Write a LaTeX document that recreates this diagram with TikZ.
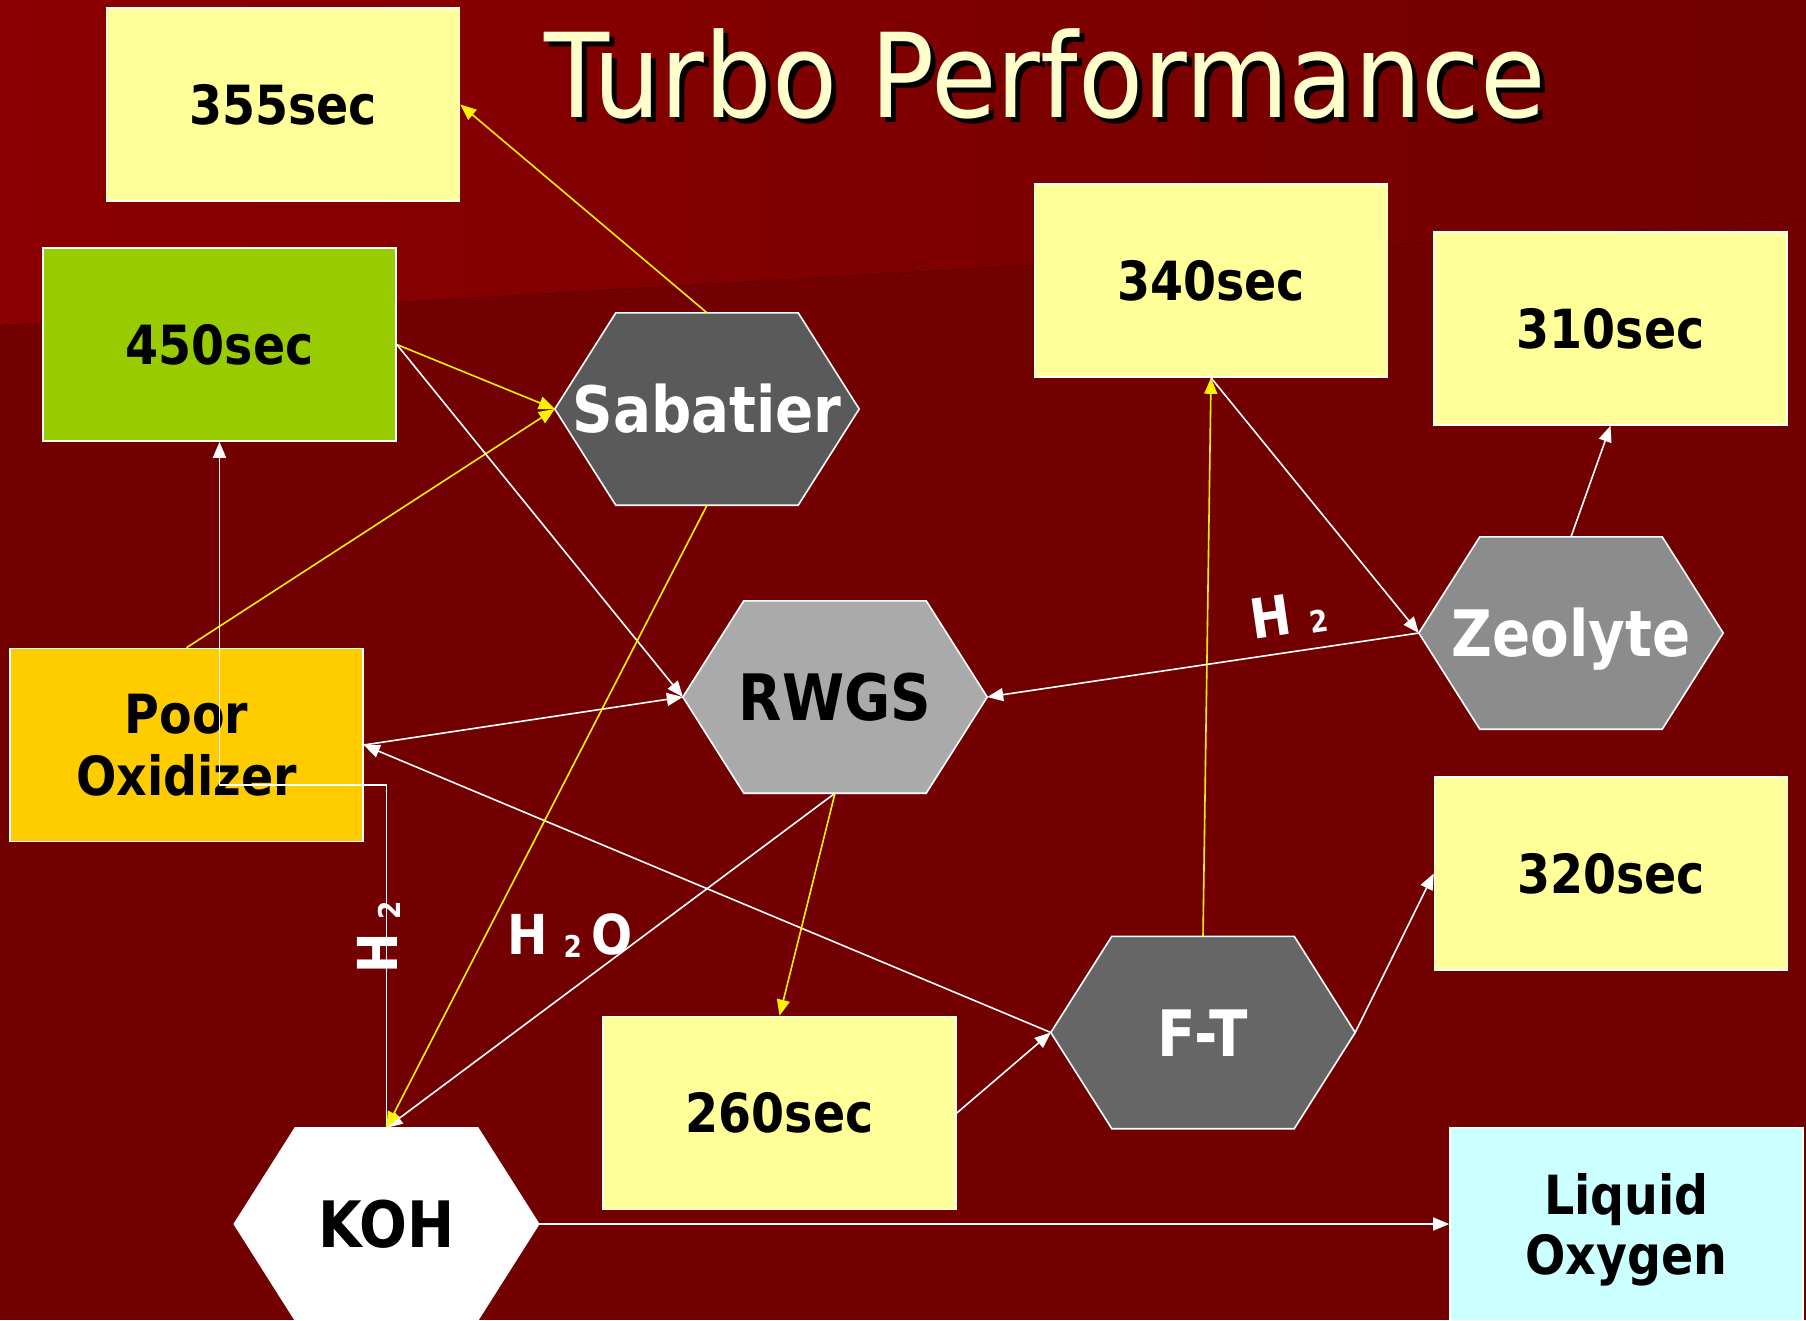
\documentclass[tikz,border=0pt]{standalone}
\usepackage{fontspec}
\setmainfont{DejaVu Sans}
\usetikzlibrary{arrows.meta}
\definecolor{bgdark}{HTML}{720000}
\definecolor{bglight}{HTML}{8B0000}
\definecolor{boxyellow}{HTML}{FFFF99}
\definecolor{boxgreen}{HTML}{99CC00}
\definecolor{boxgold}{HTML}{FFCC00}
\definecolor{boxcyan}{HTML}{CCFFFF}
\definecolor{titlecol}{HTML}{FFFFCC}
\definecolor{hexsab}{HTML}{5A5A5A}
\definecolor{hexrwgs}{HTML}{AAAAAA}
\definecolor{hexzeo}{HTML}{8C8C8C}
\definecolor{hexft}{HTML}{666666}
\newcommand{\tx}[1]{\scalebox{0.88}[1]{#1}}
\newcommand{\ttx}[1]{\scalebox{0.91}[1]{#1}}
\pgfdeclarelayer{backl}
\pgfdeclarelayer{hexl}
\pgfsetlayers{backl,hexl,main}
\newcommand{\hexbg}[2]{\begin{pgfonlayer}{hexl}\path[fill=#2,draw=white,line width=1.6pt] (#1.west) -- ([xshift=61pt]#1.north west) -- ([xshift=-61pt]#1.north east) -- (#1.east) -- ([xshift=-61pt]#1.south east) -- ([xshift=61pt]#1.south west) -- cycle;\end{pgfonlayer}}
\tikzset{
  box/.style={rectangle, draw=white, line width=1.6pt, minimum width=353pt, minimum height=193pt, inner sep=0pt, font=\fontsize{54}{62}\selectfont\bfseries, text=black, align=center},
  onebox/.style={box, text height=39pt, text depth=0pt},
  hexnode/.style={rectangle, draw=none, minimum width=304pt, minimum height=192pt, inner sep=0pt, font=\fontsize{64}{70}\selectfont\bfseries, text height=47pt, text depth=0pt},
  lbl/.style={inner sep=0pt, text=white, font=\fontsize{55}{60}\selectfont\bfseries},
  wl/.style={draw=white, line width=1.6pt, -{Triangle[length=16pt,width=13pt]}},
  yl/.style={draw=yellow, line width=1.6pt, -{Triangle[length=16pt,width=13pt]}},
  ttl/.style={anchor=base west, inner sep=0pt, font=\fontsize{117}{130}\selectfont}
}
\newcommand{\sub}{\fontsize{30}{30}\selectfont}
\begin{document}
\begin{tikzpicture}[x=1pt,y=-1pt]
\useasboundingbox (0,0) rectangle (1806,1320);
\begin{pgfonlayer}{backl}
\fill[bgdark] (0,0) rectangle (1806,1320);
\fill[left color=bglight, right color=bgdark] (0,0) -- (1806,0) -- (1806,220) -- (0,325) -- cycle;
\end{pgfonlayer}

% title
\node[ttl, text=black] (titleshadow) at (549,122) {\ttx{Turbo Performance}};
\node[ttl, text=titlecol] (title) at (544,117) {\ttx{Turbo Performance}};

% boxes
\node[onebox, fill=boxyellow] (b355) at (283,104.5) {\tx{355sec}};
\node[onebox, fill=boxgreen] (b450) at (219.5,344.5) {\tx{450sec}};
\node[box, fill=boxgold] (bpo) at (186.5,745) {\tx{Poor}\\\tx{Oxidizer}};
\node[onebox, fill=boxyellow] (b260) at (779.5,1113) {\tx{260sec}};
\node[onebox, fill=boxyellow] (b340) at (1211,280.5) {\tx{340sec}};
\node[onebox, fill=boxyellow] (b310) at (1610.5,328.5) {\tx{310sec}};
\node[onebox, fill=boxyellow] (b320) at (1611,873.5) {\tx{320sec}};
\node[box, fill=boxcyan, font=\fontsize{54}{60}\selectfont\bfseries, text depth=0pt] (blox) at (1626.5,1224) {\tx{Liquid}\\\tx{Oxygen}};

% hexagons
\node[hexnode, text=white] (sab) at (707,409) {\tx{Sabatier}};
\node[hexnode, text=black] (rwgs) at (835,697) {\tx{RWGS}};
\node[hexnode, text=white] (zeo) at (1571,633) {\tx{Zeolyte}};
\node[hexnode, text=white] (ft) at (1203,1032.5) {\tx{F-T}};
\node[hexnode, text=black] (koh) at (386.5,1224) {\tx{KOH}};
\hexbg{sab}{hexsab}
\hexbg{rwgs}{hexrwgs}
\hexbg{zeo}{hexzeo}
\hexbg{ft}{hexft}
\hexbg{koh}{white}

% connectors
\draw[yl] (sab.north) -- (b355.east);
\draw[yl] (b450.east) -- (sab.west);
\draw[yl] (bpo.north) -- (sab.west);
\draw[wl] (b450.east) -- (rwgs.west);
\draw[wl] (bpo.east) -- (rwgs.west);
\draw[wl] (ft.west) -- (bpo.east);
\draw[wl] (koh.north) -- ++(0,-343) -| (b450.south);
\draw[wl] (rwgs.south) -- (koh.north);
\draw[yl] (sab.south) -- (koh.north);
\draw[yl] (rwgs.south) -- (b260.north);
\draw[wl] (b260.east) -- (ft.west);
\draw[yl] (ft.north) -- (b340.south);
\draw[wl] (b340.south) -- (zeo.west);
\draw[wl] (zeo.west) -- (rwgs.east);
\draw[wl] (zeo.north) -- (b310.south);
\draw[wl] (ft.east) -- (b320.west);
\draw[wl] (koh.east) -- (blox.west);

% labels
\node[lbl, anchor=base west, rotate=90] (lblv) at (397,974) {\tx{H}\hspace{14pt}\raisebox{-3pt}{\sub\tx{2}}};
\node[lbl, anchor=base west] (lblh2o) at (507,954) {\tx{H}\hspace{16pt}\raisebox{-3pt}{\sub\tx{2}}\hspace{9pt}\tx{O}};
\node[lbl, anchor=base west, rotate=8.3] (lblzeo) at (1253,640) {\tx{H}\hspace{18pt}\raisebox{-2pt}{\sub\tx{2}}};
\end{tikzpicture}
\end{document}
